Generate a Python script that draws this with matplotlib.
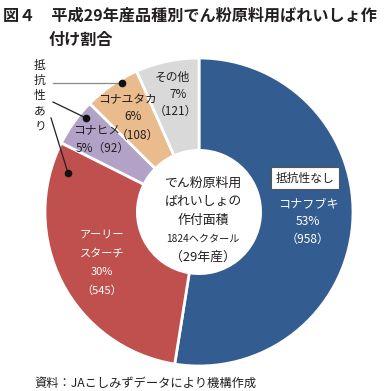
import matplotlib.pyplot as plt

plt.rcParams['font.family'] = ['Noto Sans CJK JP', 'DejaVu Sans']

# data: 平成29年産 でん粉原料用ばれいしょ 作付面積 (ha)
varieties = ['コナフブキ', 'アーリースターチ', 'コナヒメ', 'コナユタカ', 'その他']
areas = [958, 545, 92, 108, 121]
shares = ['53%', '30%', '5%', '6%', '7%']
colors = ['#335c91', '#c0504d', '#b3a2c7', '#e9bb8d', '#d9d9d9']

W, H = 392, 391
fig = plt.figure(figsize=(W / 100, H / 100), dpi=100)

def fx(x):
    return x / W

def fy(y):
    return 1 - y / H

# donut: center (199, 212), radius 154 px
cx, cy, r = 199, 212, 154
ax = fig.add_axes([fx(cx - r), fy(cy + r), 2 * r / W, 2 * r / H])
ax.pie(areas, colors=colors, startangle=90, counterclock=False,
       radius=1, wedgeprops=dict(width=0.6, edgecolor='white', linewidth=2))
ax.set_xlim(-1, 1)
ax.set_ylim(-1, 1)
ax.axis('off')

tc = '#231f20'
fig.text(fx(3), fy(16), '図４　平成29年産品種別でん粉原料用ばれいしょ作',
         fontsize=11.6, fontweight='bold', color=tc, va='center')
fig.text(fx(49), fy(40), '付け割合', fontsize=11.6, fontweight='bold',
         color=tc, va='center')

# center text
center_lines = ['でん粉原料用', 'ばれいしょの', '作付面積',
                f'{sum(areas)}ヘクタール', '（29年産）']
for i, t in enumerate(center_lines):
    fig.text(fx(203), fy(183 + i * 18.5), t, fontsize=9.3 if i != 3 else 7.3,
             color=tc, ha='center', va='center')

# コナフブキ
fig.text(fx(305), fy(178), '抵抗性なし', fontsize=8.5, color=tc,
         ha='center', va='center',
         bbox=dict(boxstyle='square,pad=0.35', fc='white', ec='#555555', lw=0.8))
for i, t in enumerate([varieties[0], shares[0], f'（{areas[0]}）']):
    fig.text(fx(308), fy(204 + i * 17.5), t, fontsize=8.7, color='white',
             ha='center', va='center')

# アーリースターチ
for i, t in enumerate(['アーリー', 'スターチ', shares[1], f'（{areas[1]}）']):
    fig.text(fx(102), fy(235 + i * 18.5), t, fontsize=8, color='white',
             ha='center', va='center')

# コナヒメ
fig.text(fx(97), fy(130), varieties[2], fontsize=8.5, color=tc, ha='center', va='center')
fig.text(fx(103), fy(148), f'{shares[2]}（{areas[2]}）', fontsize=8.5, color=tc,
         ha='center', va='center')

# コナユタカ
fig.text(fx(127), fy(100), varieties[3], fontsize=8.5, color=tc, ha='center', va='center')
fig.text(fx(133), fy(117), shares[3], fontsize=8.5, color=tc, ha='center', va='center')
fig.text(fx(137), fy(135), f'（{areas[3]}）', fontsize=8.5, color=tc, ha='center', va='center')

# その他
fig.text(fx(172), fy(77), varieties[4], fontsize=8.5, color=tc, ha='center', va='center')
fig.text(fx(178), fy(94), shares[4], fontsize=8.5, color=tc, ha='center', va='center')
fig.text(fx(175), fy(111), f'（{areas[4]}）', fontsize=8.5, color=tc, ha='center', va='center')

# 抵抗性あり (vertical)
for i, ch in enumerate('抵抗性あり'):
    fig.text(fx(40), fy(65 + i * 15.2), ch, fontsize=8.5, color=tc,
             ha='center', va='center')

# leader lines
lines = [((53, 83), (122, 83), '#888888'),
         ((53, 102), (86, 118), tc),
         ((51, 118), (68, 173), tc)]
for (x0, y0), (x1, y1), c in lines:
    fig.add_artist(plt.Line2D([fx(x0), fx(x1)], [fy(y0), fy(y1)],
                              transform=fig.transFigure, color=c, lw=0.9))
    fig.add_artist(plt.Line2D([fx(x1)], [fy(y1)], transform=fig.transFigure,
                              marker='o', ms=4.5, color='#111111'))

fig.text(fx(34), fy(383), '資料：JAこしみずデータにより機構作成',
         fontsize=8.8, color=tc, va='center')

fig.savefig('out.png', dpi=100)
